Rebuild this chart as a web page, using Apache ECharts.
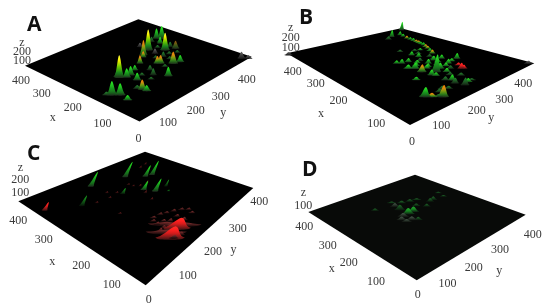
<!DOCTYPE html>
<html><head><meta charset="utf-8"><style>html,body{margin:0;background:#fff}#c{width:550px;height:307px;filter:blur(0.4px)}</style>
<script src="https://cdn.jsdelivr.net/npm/echarts@6/dist/echarts.min.js"></script></head><body><div id="c"></div>
<script>
var ticks=[0,100,200,300,400];
// peak values: x, y, height z, spread (all in the chart's units); tone = colour class
var peaksA=[[174,108,236,7],[228,263,240,7],[194,291,201,7],[252,341,150,7],[263,332,121,6],[216,233,171,6],[189,193,92,5],[208,224,68,5],[156,221,81,6],[150,226,92,6],[126,246,129,7],[119,264,74,6],[180,316,89,6],[90,188,98,6],[161,120,95,6],[162,134,96,6],[132,126,77,6],[173,159,54,5],[125,39,139,7],[111,51,116,7],[82,46,49,6],[91,101,101,6],[79,103,57,6],[103,97,34,6],[121,169,71,5],[200,259,57,5],[145,183,54,5],[171,259,57,5],[198,315,59,5],[181,107,53,5],[259,264,47,5],[134,31,33,6],[14,376,74,6],[1,387,37,6],[258,307,60,5],[233,314,79,5],[180,240,30,5],[200,290,35,5],[170,280,30,5],[150,260,28,5],[130,220,25,5],[110,150,25,5],[140,150,30,5],[160,300,28,5],[220,290,30,5],[240,320,30,5]];
var tonesA=['y','y','y','g','g','o','o','o','o','o','o','g','b','g','g','g','g','g','g','g','g','o','g','d','d','a','d','d','d','d','a','d','a','a','d','g','d','d','d','d','d','d','d','d','d','d'];
var peaksB=[[384,386,105,5],[348,307,79,5],[346,339,45,5],[309,328,30,5],[282,325,29,5],[260,321,25,5],[238,315,28,5],[213,301,27,5],[181,279,37,5],[102,191,146,6],[25,110,82,6],[44,86,67,6],[37,95,26,6],[123,294,52,5],[81,248,48,5],[78,252,32,5],[96,260,23,5],[34,199,27,5],[29,181,56,5],[34,211,15,5],[57,181,44,5],[65,171,29,5],[120,168,62,6],[141,171,48,6],[177,190,34,5],[179,171,40,5],[186,162,27,5],[185,234,36,5],[143,217,40,5],[145,267,35,5],[116,252,40,5],[100,128,24,5],[39,145,19,5],[45,173,42,5],[126,191,32,5],[97,170,45,5],[150,160,32,6],[203,230,36,5],[238,227,19,5],[334,280,34,6],[30,104,18,5],[386,-2,29,6],[8,390,23,6],[216,276,19,5],[109,213,48,6],[89,209,31,5],[149,243,41,5],[330,335,30,5],[295,327,26,5],[270,323,24,5],[250,318,24,5],[225,308,26,5],[197,290,26,5],[160,200,26,5],[150,185,30,5],[165,215,28,5],[130,200,30,5],[125,225,26,5],[110,235,28,5],[95,230,26,5],[135,240,30,5],[155,250,26,5],[105,190,30,5],[90,175,26,5],[170,255,24,5],[120,270,26,5],[75,200,24,5],[60,215,22,5],[45,135,22,5],[40,120,24,5],[200,250,22,5],[220,260,20,5]];
var tonesB=['g','g','g','o','g','o','g','o','o','g','o','g','o','g','r','r','r','g','d','d','g','d','o','g','g','g','g','g','g','g','g','g','d','d','g','g','g','g','d','d','d','a','a','g','g','g','g','g','g','o','g','o','g','g','g','d','g','o','g','d','g','d','g','g','d','g','d','d','d','d','d','d'];
var peaksC=[[335,142,131,5],[309,232,148,5],[269,269,109,5],[262,288,138,5],[219,213,78,5],[191,225,114,5],[244,167,51,4],[274,75,83,4],[187,261,64,3],[320,16,64,4],[44,110,79,18],[53,142,75,18],[62,120,16,26],[50,160,15,24],[80,140,14,24],[115,139,16,5],[112,157,18,5],[105,170,15,5],[97,185,20,5],[87,201,17,5],[75,211,16,5],[93,126,22,5],[90,143,17,5],[79,151,24,5],[79,174,19,5],[60,173,22,6],[73,113,25,5],[55,114,21,6],[52,130,25,6],[70,136,23,5],[75,126,20,5],[107,130,15,5],[38,114,22,6],[34,130,22,6],[61,205,16,5],[319,299,25,3],[325,325,26,3],[238,244,26,3],[239,220,22,3],[252,209,16,3],[268,207,16,3],[258,161,15,3],[277,146,15,3],[252,135,15,3],[258,103,14,3],[183,106,13,3],[165,246,15,3],[204,204,24,3],[170,191,20,3]];
var tonesC=['g','g','g','g','g','g','k','k','k','r','r','r','p','p','p','p','p','p','p','p','p','p','p','p','p','p','p','p','p','p','p','p','p','p','p','q','q','q','q','q','q','q','q','q','q','q','k','q','q'];
var peaksD=[[212,185,43,9],[244,185,39,8],[210,165,25,8],[182,168,24,8],[268,189,26,7],[290,197,13,7],[271,217,19,7],[263,241,19,7],[258,263,11,7],[171,180,20,6],[231,234,18,6],[224,282,27,6],[226,297,27,6],[209,252,21,6],[221,335,11,6],[247,342,11,6],[286,134,15,6],[199,149,24,7],[184,152,17,7],[212,204,38,8]];
var tonesD=['h','e','f','f','f','e','e','e','e','e','e','e','e','e','e','e','e','f','f','h'];

var toneStops={
 y:['#1c2c1a','#1a8a1c','#6ec800','#f6f000','#ffff40'],
 g:['#1c281c','#17701c','#1a9a1e','#22cc20','#2aee24'],
 o:['#1c281a','#2a7a18','#7a9a10','#e08a10','#f08000'],
 b:['#1c2118','#2a4a18','#4a5a15','#7a5a12','#8a5a10'],
 d:['#101610','#1a3a1c','#1c5a22','#1f7028','#2a8030'],
 a:['#141414','#2a2a2a','#3c3c3c','#555','#666'],
 k:['#060c06','#0c3a10','#116016','#168a1c','#1aa020'],
 r:['#3a1212','#8a1a1a','#d81c1c','#ff2020','#ff3028'],
 p:['#120606','#2a1010','#4a1c1c','#6a2626','#7a2c2c'],
 q:['#080404','#2a0e0e','#4a1414','#5a1818','#601a1a'],
 e:['#0b100b','#0e2a12','#12401a','#1a5522','#1f6026'],
 f:['#0d100d','#1c241c','#2a362c','#3a483c','#445446'],
 h:['#0e1a10','#124a1a','#168020','#1c9a28','#22aa2e']};

var panels=[
 {letter:'A',lx:27,ly:15,q:[[139.5,121.5],[25,65.7],[251.7,56.7],[138.3,19.3]],zs:9,lean:0,plane:'#000',peaks:peaksA,tones:tonesA,zTicks:[100,200],
  xl:[[-1,17],[-4,18],[-4,16.5],[-8,16],[-4,15]],yl:[[-4,20],[-5.5,25.5],[-7,26],[-5,23]],zp:[-3,4.5],xn:[-24,27],yn:[22,27]},
 {letter:'B',lx:299,ly:8,q:[[410,125],[286.7,53.3],[534.3,63.3],[401,28.3]],zs:10,lean:0.1,plane:'#000',peaks:peaksB,tones:tonesB,zTicks:[100,200],
  xl:[[2,17],[11,25],[6.5,21],[9,19],[6,19]],yl:[[-11,22],[-8.5,23.5],[-8,26],[-11,21]],zp:[4,4.5],xn:[-11,34],yn:[6,30]},
 {letter:'C',lx:27,ly:144,q:[[145.7,285.3],[18.3,201.3],[253.3,188],[145,151.7]],zs:12.5,lean:0.5,plane:'#000',peaks:peaksC,tones:tonesC,zTicks:[100,200],
  xl:[[3,15],[7.5,26.5],[11,30],[1.5,22.5],[0,20]],yl:[[3,26],[-.5,28],[2,25],[6,14]],zp:[2,4],xn:[-18,26],yn:[20,26]},
 {letter:'D',lx:302,ly:160,q:[[416.7,280.3],[308.3,212],[525.7,214.7],[415,174.7]],zs:13,lean:0,plane:'#080a08',peaks:peaksD,tones:tonesD,zTicks:[100],
  xl:[[1,15],[-6.5,23],[-5,22.5],[-1.5,20.5],[-4,15]],yl:[[-3,24],[-5.5,25],[-4,22],[7,20]],zp:[-5,6.5],xn:[-22,28],yn:[20,28]}];

function homography(q){var P00=q[0],P10=q[1],P01=q[2],P11=q[3],dx1=P10[0]-P11[0],dx2=P01[0]-P11[0],sx=P00[0]-P10[0]+P11[0]-P01[0],dy1=P10[1]-P11[1],dy2=P01[1]-P11[1],sy=P00[1]-P10[1]+P11[1]-P01[1],den=dx1*dy2-dx2*dy1,g=(sx*dy2-dx2*sy)/den,h=(dx1*sy-sx*dy1)/den;
 return {a:P10[0]-P00[0]+g*P10[0],b:P01[0]-P00[0]+h*P01[0],c:P00[0],d:P10[1]-P00[1]+g*P10[1],e:P01[1]-P00[1]+h*P01[1],f:P00[1],g:g,h:h};}
function projector(p){var m=homography(p.q),wRef=m.g+1;
 return function(x,y){var u=x/400,v=y/400,w=m.g*u+m.h*v+1;return {x:(m.a*u+m.b*v+m.c)/w,y:(m.d*u+m.e*v+m.f)/w,scale:wRef/w};};}
var SERIF={fontFamily:'Liberation Serif',fontSize:12,fill:'#3a3a3a',align:'center',verticalAlign:'middle'};
var PX=0.27;

var series=[],titles=[];
panels.forEach(function(p){
 var pr=projector(p);
 titles.push({text:p.letter,left:p.lx,top:p.ly,padding:0,textStyle:{fontFamily:'Open Sans',fontWeight:'bold',fontSize:21,color:'#111'}});
 series.push({type:'custom',coordinateSystem:'none',silent:true,animation:false,z:1,data:[[400,400]],renderItem:function(){
   var pts=[[0,0],[400,0],[400,400],[0,400]].map(function(c){var s=pr(c[0],c[1]);return [s.x,s.y];});
   return {type:'polygon',shape:{points:pts},style:{fill:p.plane}};}});
 var rows=p.peaks.map(function(r,i){return r.concat(p.tones[i]);}).sort(function(a,b){return (b[0]+b[1])-(a[0]+a[1]);});
 series.push({type:'custom',coordinateSystem:'none',silent:true,animation:false,z:2,data:rows.map(function(r){return r.slice(0,4);}),renderItem:function(params,api){
   var s=pr(api.value(0),api.value(1)),H=api.value(2)*p.zs/100*s.scale,sig=api.value(3)*PX*s.scale,pts=[],n=16,i,t;
   for(i=0;i<=n;i++){t=-2.6+5.2*i/n;var e=Math.exp(-t*t/2);pts.push([s.x+t*sig+p.lean*H*e,s.y-H*e]);}
   for(i=n-1;i>0;i--){t=-2.6+5.2*i/n;pts.push([s.x+t*sig,s.y+0.35*sig*Math.sqrt(Math.max(0,1-t*t/6.76))]);}
   var st=toneStops[rows[params.dataIndex][4]];
   return {type:'polygon',shape:{points:pts},style:{fill:new echarts.graphic.LinearGradient(0,1,0,0,st.map(function(c,k){return {offset:k/(st.length-1),color:c};}))}};}});
 var labels=[];
 ticks.forEach(function(t,i){var o=p.xl[i],s=pr(t,0);labels.push({text:String(t),x:s.x+o[0],y:s.y+o[1]});
   if(t>0){o=p.yl[i-1];s=pr(0,t);labels.push({text:String(t),x:s.x+o[0],y:s.y+o[1]});}});
 var c=pr(400,0);
 p.zTicks.forEach(function(z){labels.push({text:String(z),x:c.x+p.zp[0],y:c.y+p.zp[1]-z*p.zs/100});});
 var zTop=p.zTicks[p.zTicks.length-1]+100;
 labels.push({text:'z',x:c.x+p.zp[0],y:c.y+p.zp[1]-zTop*p.zs/100});
 var m1=pr(200,0),m2=pr(0,200);
 labels.push({text:'x',x:m1.x+p.xn[0],y:m1.y+p.xn[1]});
 labels.push({text:'y',x:m2.x+p.yn[0],y:m2.y+p.yn[1]});
 series.push({type:'custom',coordinateSystem:'none',silent:true,animation:false,z:3,data:labels.map(function(l,i){return [i];}),renderItem:function(params){
   var l=labels[params.dataIndex];return {type:'text',x:l.x,y:l.y,style:Object.assign({text:l.text},SERIF)};}});
});
var chart=echarts.init(document.getElementById('c'),null,{renderer:'canvas'});
chart.setOption({backgroundColor:'#fff',animation:false,title:titles,series:series});
</script></body></html>
